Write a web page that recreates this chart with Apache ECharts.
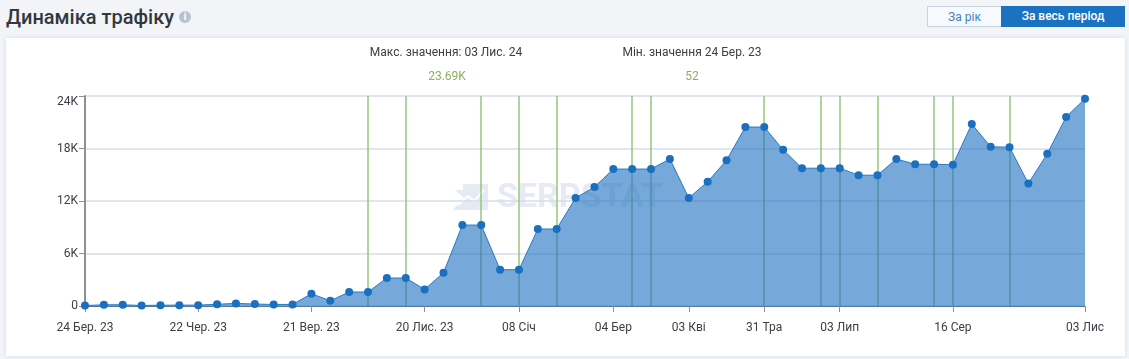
<!DOCTYPE html>
<html lang="uk">
	<head>
		<meta charset="utf-8" />
		<title>Динаміка трафіку</title>
		<style>
			html, body { margin: 0; padding: 0; background: #f2f4f8; overflow: hidden; }
			body { width: 1129px; height: 359px; position: relative; font-family: Roboto, sans-serif; }
			.title { position: absolute; left: 6px; top: 2px; font-size: 20px; line-height: 30px; color: #33383f; font-weight: 500; }
			.info { position: absolute; left: 179px; top: 11px; width: 12px; height: 12px; border-radius: 50%; background: #b9c2d0; color: #fff; font-size: 10px; line-height: 12px; text-align: center; font-weight: 700; }
			.btn { position: absolute; top: 6px; height: 21px; line-height: 20px; font-size: 12px; text-align: center; box-sizing: border-box; }
			.btn.year { left: 927px; width: 74px; border: 1px solid #c9d4e3; border-right: 0; color: #3f7fc4; background: #f7f9fc; }
			.btn.all { left: 1001px; width: 124px; background: #1b72c0; color: #fff; font-weight: 500; }
			.card { position: absolute; left: 6px; top: 38px; width: 1119px; height: 318px; background: #fff; box-shadow: 0 0 4px #d5dbe8; }
			#main { position: absolute; left: -6px; top: -38px; width: 1129px; height: 359px; }
		</style>
	</head>
	<body>
		<div class="title">Динаміка трафіку</div>
		<div class="info">i</div>
		<div class="btn year">За рік</div>
		<div class="btn all">За весь період</div>
		<div class="card"><div id="main"></div></div>

		<script src="https://cdn.jsdelivr.net/npm/echarts@6/dist/echarts.min.js"></script>
		<script type="text/javascript">
			// only the labelled points have a readable date
			const tickLabels = {
				0: '24 Бер. 23', 6: '22 Чер. 23', 12: '21 Вер. 23', 18: '20 Лис. 23', 23: '08 Січ',
				28: '04 Бер', 32: '03 Кві', 36: '31 Тра', 40: '03 Лип', 46: '16 Сер', 53: '03 Лис',
			};
			const traffic = [
				52, 140, 140, 60, 90, 100, 100, 200, 300, 220, 180, 180,
				1400, 600, 1600, 1600, 3200, 3200, 1900, 3800, 9250, 9250, 4150, 4150,
				8800, 8800, 12350, 13600, 15650, 15650, 15650, 16800, 12350, 14200, 16650, 20450,
				20450, 17850, 15750, 15750, 15750, 14950, 14950, 16800, 16200, 16200, 16150, 20800,
				18200, 18150, 14000, 17400, 21600, 23690,
			];
			const eventPoints = [15, 17, 21, 23, 25, 29, 30, 36, 39, 40, 42, 45, 46, 49];
			const categories = traffic.map((v, i) => tickLabels[i] || '');

			const myChart = echarts.init(document.getElementById('main'));
			const option = {
				animation: false,
				textStyle: { fontFamily: 'Roboto' },
				title: [
					{ text: 'Макс. значення: 03 Лис. 24', left: 441, top: 42, textAlign: 'center', textStyle: { fontSize: 12, fontWeight: 400, color: '#3c4046' } },
					{ text: '23.69K', left: 442, top: 66, textAlign: 'center', textStyle: { fontSize: 12, fontWeight: 400, color: '#8fae5d' } },
					{ text: 'Мін. значення 24 Бер. 23', left: 687, top: 42, textAlign: 'center', textStyle: { fontSize: 12, fontWeight: 400, color: '#3c4046' } },
					{ text: '52', left: 687, top: 66, textAlign: 'center', textStyle: { fontSize: 12, fontWeight: 400, color: '#8fae5d' } },
				],
				graphic: [
					// watermark
					{
						type: 'polygon', z: 0, silent: true,
						shape: { points: [[463, 184], [488, 184], [488, 210], [452, 210], [464, 198], [455, 190], [463, 190]] },
						style: { fill: '#e6eaf3' },
					},
					{
						type: 'polyline', z: 0, silent: true,
						shape: { points: [[458, 205], [468, 196], [474, 201], [484, 190]] },
						style: { stroke: '#fff', lineWidth: 2, fill: 'none' },
					},
					{
						type: 'text', left: 497, top: 181, z: 0, silent: true,
						style: { text: 'SERPSTAT', fontFamily: 'Roboto', fontSize: 34, fontWeight: 700, fill: '#e6eaf3', letterSpacing: 4 },
					},
				],
				grid: { left: 85, right: 44, top: 96, bottom: 53 },
				xAxis: {
					type: 'category',
					boundaryGap: false,
					data: categories,
					axisLine: { lineStyle: { color: '#4f7ba8', width: 1 } },
					axisTick: { show: true, length: 6, interval: i => i in tickLabels, lineStyle: { color: '#8d8f94' } },
					axisLabel: { interval: i => i in tickLabels, color: '#3c4046', fontSize: 12, margin: 16, hideOverlap: false, showMinLabel: true, showMaxLabel: true },
					splitLine: { show: false },
				},
				yAxis: {
					type: 'value',
					min: 0,
					max: 24000,
					interval: 6000,
					axisLine: { show: true, lineStyle: { color: '#8d8f94', width: 2 } },
					axisTick: { show: true, length: 6, lineStyle: { color: '#8d8f94' } },
					axisLabel: { color: '#3c4046', fontSize: 12, margin: 7, verticalAlignMaxLabel: 'top', formatter: v => (v === 0 ? '0' : v / 1000 + 'K') },
					splitLine: { lineStyle: { color: '#d6dcec', width: 1.5 } },
				},
				series: [
					{
						type: 'line',
						z: 3,
						data: traffic,
						symbol: 'circle',
						symbolSize: 8,
						showAllSymbol: true,
						itemStyle: { color: '#1b6fc0' },
						lineStyle: { color: '#2a78c0', width: 1 },
						areaStyle: { color: '#1b6fc0', opacity: 0.6 },
						markLine: {
							z: 1,
							silent: true,
							symbol: 'none',
							label: { show: false },
							lineStyle: { color: '#8cc071', width: 1.5, type: 'solid', opacity: 0.9 },
							data: eventPoints.map(i => ({ xAxis: i })),
						},
					},
				],
			};
			myChart.setOption(option);
		</script>
	</body>
</html>
